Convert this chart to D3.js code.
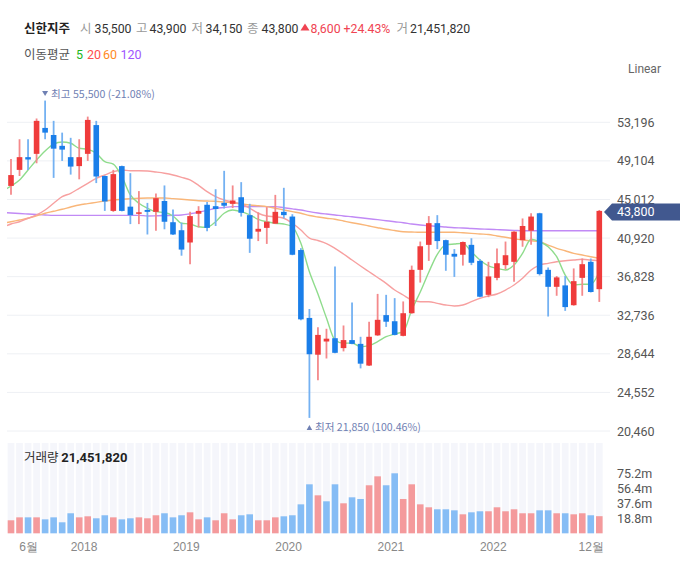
<!DOCTYPE html>
<html><head><meta charset="utf-8">
<script src="https://cdn.jsdelivr.net/npm/d3@7"></script>
<style>
body{margin:0;background:#fff;}
svg{display:block;font-family:"Noto Sans CJK KR","Noto Sans",sans-serif;}
</style></head><body>
<svg id="c" width="680" height="582"></svg>
<script>
// ---------- DATA ----------
const stockName = "신한지주";
const months = ["2017-04","2017-05","2017-06","2017-07","2017-08","2017-09","2017-10","2017-11","2017-12",
"2018-01","2018-02","2018-03","2018-04","2018-05","2018-06","2018-07","2018-08","2018-09","2018-10","2018-11","2018-12",
"2019-01","2019-02","2019-03","2019-04","2019-05","2019-06","2019-07","2019-08","2019-09","2019-10","2019-11","2019-12",
"2020-01","2020-02","2020-03","2020-04","2020-05","2020-06","2020-07","2020-08","2020-09","2020-10","2020-11","2020-12",
"2021-01","2021-02","2021-03","2021-04","2021-05","2021-06","2021-07","2021-08","2021-09","2021-10","2021-11","2021-12",
"2022-01","2022-02","2022-03","2022-04","2022-05","2022-06","2022-07","2022-08","2022-09","2022-10","2022-11","2022-12","2023-01"];
const open  = [46450,48150,49500,49850,52600,51850,50700,49500,48550,49850,52900,47500,43800,48550,44250,43550,43900,43700,44850,42600,41750,40450,43500,44450,44300,44650,44550,45250,43350,41600,42000,42450,43700,43200,39650,32450,28550,29950,30300,29250,30100,29700,27400,30600,32750,32100,30550,32950,37550,40200,42500,40700,39250,39150,40200,38500,34900,36700,38050,38400,40700,41700,43550,37550,35750,35900,33800,36700,38400,35500];
const high  = [49300,51400,51400,53600,55500,53350,52100,51550,51400,53800,53350,47550,48150,48600,47800,45900,44650,45650,46500,43950,42550,43700,44300,44750,46100,48050,46500,46850,44550,43650,44200,45500,46250,43450,39850,33400,31450,31300,37900,31650,34100,30450,32050,35000,34900,34550,34200,38000,40550,43250,43350,40750,39750,40550,40900,38700,38400,39800,40550,41650,43000,43550,43600,37800,36900,36900,37700,38750,38750,43900];
const low   = [45500,47500,48150,48850,51400,47300,49100,47650,47150,49100,46750,43800,43700,43750,42400,42400,41300,41700,41850,41250,39050,38150,42050,41650,42200,44050,44100,43200,39350,40600,40300,42400,43000,39100,32200,21850,25850,28150,28700,28900,29650,27100,27350,30550,31500,30600,30500,32900,36200,38500,39750,37450,36800,38000,38050,34650,34650,36450,37600,36300,40000,40200,36950,32600,34800,33200,33750,34800,35150,34150];
const close = [47600,49500,49250,53350,52100,50400,50300,48500,49500,53450,47450,44800,47700,43800,43350,43650,43700,45150,42650,41300,39700,43250,43800,42000,44000,44350,44900,43600,40850,41900,42650,43700,43350,39150,32300,28600,30650,30250,28750,30100,29700,27600,30450,32250,32050,30650,32950,37550,40050,42500,40600,39150,38950,40500,38300,34700,36850,38250,39100,41600,42200,43200,37100,35750,36750,33600,36350,38150,35200,43800];
// volume in millions of shares
const volume = [16.3,20.0,20.0,20.0,17.5,20.0,13.8,25.1,20.0,21.3,18.8,22.6,20.0,17.5,18.8,20.0,18.8,22.6,25.1,20.0,22.6,26.3,17.5,20.0,16.3,25.1,17.5,22.6,23.8,16.3,16.3,20.0,21.3,22.6,36.3,61.4,47.6,40.1,61.4,37.6,45.1,43.0,60.2,71.4,60.2,75.2,43.0,61.4,36.3,32.6,30.1,30.1,28.8,23.8,26.3,27.6,27.6,32.6,27.6,30.1,25.1,25.1,28.8,28.8,25.1,25.1,23.8,25.1,22.6,21.45182];
// moving averages, first value = 2017-03 (one month before the first candle)
const ma5   = [45910,46440,47080,48140,49200,50150,50890,51110,50970,50440,50330,49910,49020,48770,47430,45490,44610,44080,43720,43630,43260,42490,42410,42120,42060,42650,43550,43900,43720,43370,42910,42650,42490,42410,42120,40360,37340,35000,32440,30110,29760,29790,29400,29510,29930,30460,30750,30990,33290,35200,37300,39200,40200,40290,40360,39470,38590,37960,37710,37530,38060,39300,40790,40530,40000,38940,37000,35940,36020,36020,37350];
const ma20  = [42040,42410,42650,43020,43370,43900,44610,45310,45670,46200,46730,47260,47610,47960,48140,48060,48060,48030,47920,47790,47610,47360,47080,46510,45840,45310,44960,44740,44530,44080,43550,43260,43180,43020,42490,41770,40920,40660,40340,39830,39230,38590,37960,37350,36740,36120,35410,34880,34350,34170,34170,34000,33820,33720,33820,34170,34530,34780,34990,35410,35940,36650,37530,38060,38240,38410,38520,38590,38670,38590,38520];
const ma60  = [42460,42650,42830,43020,43280,43550,43760,43970,44210,44430,44570,44710,44850,44960,45030,45090,45140,45170,45170,45170,45100,45030,44960,44880,44850,44820,44740,44670,44550,44430,44340,44250,44080,43900,43720,43550,43310,43150,43020,42910,42730,42550,42380,42200,42020,41850,41720,41590,41560,41530,41530,41530,41530,41530,41480,41420,41350,41300,41140,41000,40850,40710,40630,40530,40180,39830,39570,39300,39120,38940,38770];
const ma120 = [43630,43580,43520,43470,43420,43370,43330,43330,43330,43330,43330,43330,43330,43330,43330,43330,43330,43260,43280,43310,43330,43370,43500,43650,43860,44080,44160,44250,44250,44250,44250,44250,44250,44140,44020,43900,43720,43580,43470,43370,43260,43180,43080,42970,42870,42760,42650,42550,42410,42300,42230,42170,42090,42020,41990,41930,41880,41850,41810,41770,41740,41700,41700,41700,41700,41700,41700,41700,41700,41700,41700];
const priceTicks = [20460,24552,28644,32736,36828,40920,45012,49104,53196];
const volumeTicks = [18.8,37.6,56.4,75.2];
const xTickLabels = ["6월","2018","2019","2020","2021","2022","12월"];
const xTickPos = [2,8.5,20.5,32.5,44.5,56.5,68];
const maPeriods = ["5","20","60","120"];

// ---------- STYLE ----------
const UP="#ef3b3b", DOWN="#1a7ee9", UPW="#f4898b", DOWNW="#74b1f2";
const VUP="#f49a9c", VDOWN="#86bdf5";
const MA_COL=["#8fdc8c","#f7a0a0","#f9b679","#c18af5"];
const LEG_COL=["#1db81d","#ff4d4d","#ff8a1f","#a055ff"];
const NUMFONT="Roboto, 'Noto Sans', sans-serif";

const svg=d3.select("#c");
const x=d3.scaleLinear().domain([0,69]).range([11,599.3]);
const y=d3.scaleLinear().domain([20460,53196]).range([431,122.3]);
const yv=d3.scaleLinear().domain([0,75.2]).range([533.3,473.3]);
const step=x(1)-x(0);
const n=close.length, L=n-1;
const fmt=d3.format(",");

// header
const chg=close[L]-close[L-1], pct=chg/close[L-1]*100;
const h1=svg.append("g").attr("font-size",12.5);
const hdr=[[stockName,24,"#222",700,null],["시",80,"#999",400,null],[fmt(open[L]),94.5,"#333",400,NUMFONT],["고",136,"#999",400,null],[fmt(high[L]),149.5,"#333",400,NUMFONT],
["저",191.5,"#999",400,null],[fmt(low[L]),205.5,"#333",400,NUMFONT],["종",247,"#999",400,null],[fmt(close[L]),261.5,"#333",400,NUMFONT],
[fmt(chg),310.5,"#f04452",400,NUMFONT],["+"+pct.toFixed(2)+"%",343.5,"#f04452",400,NUMFONT],["거",396.5,"#999",400,null],[fmt(Math.round(volume[L]*1e6)),410,"#333",400,NUMFONT]];
hdr.forEach(d=>{const t=h1.append("text").attr("x",d[1]).attr("y",32.5).attr("fill",d[2]).attr("font-weight",d[3]).text(d[0]);
  if(d[4]) t.attr("font-family",d[4]).attr("font-size",12.3);});
h1.append("path").attr("d","M300.5,30.5 L305,23.5 L309.5,30.5 Z").attr("fill","#f04452");
const h2=svg.append("g").attr("font-size",12.5);
h2.append("text").attr("x",24).attr("y",59).attr("fill","#555").text("이동평균");
const legX=[76,87,103,120.5];
maPeriods.forEach((p,i)=>h2.append("text").attr("x",legX[i]).attr("y",59).attr("fill",LEG_COL[i]).attr("font-family",NUMFONT).attr("font-size",12.5).text(p));
svg.append("text").attr("x",628).attr("y",73).attr("font-size",12).attr("fill","#666").attr("font-family",NUMFONT).text("Linear");

// grid
svg.append("g").selectAll("line").data(priceTicks).join("line")
 .attr("x1",7).attr("x2",610).attr("y1",d=>y(d)).attr("y2",d=>y(d))
 .attr("stroke","#eef0f4").attr("stroke-width",1);

// clip
svg.append("clipPath").attr("id","pc").append("rect").attr("x",7).attr("y",80).attr("width",597).attr("height",362);
const plot=svg.append("g").attr("clip-path","url(#pc)");

// moving averages (under candles)
const mas=[ma120,ma60,ma20,ma5];
const maCols=[MA_COL[3],MA_COL[2],MA_COL[1],MA_COL[0]];
mas.forEach((arr,k)=>{
  plot.append("path").datum(arr)
   .attr("d",d3.line().x((d,i)=>x(i-1)).y(d=>y(d)).curve(d3.curveMonotoneX))
   .attr("fill","none").attr("stroke",maCols[k]).attr("stroke-width",1.4);
});

// candles
const idx=d3.range(n);
const bw=5.6;
plot.append("g").selectAll("line").data(idx).join("line")
 .attr("x1",i=>x(i)).attr("x2",i=>x(i)).attr("y1",i=>y(high[i])).attr("y2",i=>y(low[i]))
 .attr("stroke",i=>close[i]>=open[i]?UPW:DOWNW).attr("stroke-width",1.8);
plot.append("g").selectAll("rect").data(idx).join("rect")
 .attr("x",i=>x(i)-bw/2).attr("width",bw)
 .attr("y",i=>y(Math.max(open[i],close[i])))
 .attr("height",i=>Math.max(1.5,Math.abs(y(open[i])-y(close[i]))))
 .attr("fill",i=>close[i]>=open[i]?UP:DOWN);

// high / low annotations
const hi=d3.maxIndex(high), lo=d3.minIndex(low);
const ann=svg.append("g").attr("font-size",10.6).attr("fill","#6f80b3");
ann.append("path").attr("d",`M${x(hi)-3},91 L${x(hi)+3},91 L${x(hi)},96 Z`).attr("fill","#6f80b3");
ann.append("text").attr("x",x(hi)+6).attr("y",97.5).text(`최고 ${fmt(high[hi])} (${((close[L]-high[hi])/high[hi]*100).toFixed(2)}%)`);
ann.append("path").attr("d",`M${x(lo)-2.8},430 L${x(lo)+2.8},430 L${x(lo)},425 Z`).attr("fill","#6f80b3");
ann.append("text").attr("x",x(lo)+5.5).attr("y",431).text(`최저 ${fmt(low[lo])} (${((close[L]-low[lo])/low[lo]*100).toFixed(2)}%)`);

// price axis
const ya=svg.append("g").attr("transform","translate(612,0)")
 .call(d3.axisRight(y).tickValues(priceTicks).tickSize(0).tickPadding(5).tickFormat(fmt));
ya.select(".domain").remove();
ya.selectAll("text").attr("font-size",12.5).attr("fill","#555").attr("font-family",NUMFONT);

// current price tag
const cy=y(close[L])+1;
svg.append("path").attr("d",`M604,${cy} L612,${cy-8.5} L680,${cy-8.5} L680,${cy+8.5} L612,${cy+8.5} Z`).attr("fill","#41588f");
svg.append("text").attr("x",617).attr("y",cy+4.5).attr("font-size",12.5).attr("font-family",NUMFONT).attr("fill","#fff").text(fmt(close[L]));

// volume panel
svg.append("g").selectAll("rect").data(idx).join("rect")
 .attr("x",i=>x(i)-step/2+0.9).attr("width",step-1.8).attr("y",443).attr("height",533.3-443)
 .attr("fill","#f5f6fb");
svg.append("g").selectAll("rect").data(idx).join("rect")
 .attr("x",i=>x(i)-3.3).attr("width",6.6)
 .attr("y",i=>yv(volume[i])).attr("height",i=>yv(0)-yv(volume[i]))
 .attr("fill",i=>(i===0?close[i]>=open[i]:close[i]>=close[i-1])?VUP:VDOWN);
const vl=svg.append("text").attr("x",24).attr("y",461.5).attr("font-size",12.5).attr("fill","#333");
vl.append("tspan").text("거래량 ");
vl.append("tspan").attr("font-weight",700).attr("fill","#222").attr("font-family",NUMFONT).attr("font-size",13).text(fmt(Math.round(volume[L]*1e6)));
const va=svg.append("g").attr("transform","translate(612,0)")
 .call(d3.axisRight(yv).tickValues(volumeTicks).tickSize(0).tickPadding(5).tickFormat(d=>d.toFixed(1)+"m"));
va.select(".domain").remove();
va.selectAll("text").attr("font-size",12.5).attr("fill","#555").attr("font-family",NUMFONT);

// x axis
const xa=svg.append("g").attr("transform","translate(0,538)")
 .call(d3.axisBottom(x).tickValues(xTickPos).tickSize(0).tickPadding(4).tickFormat((d,i)=>xTickLabels[i]));
xa.select(".domain").remove();
xa.selectAll("text").attr("font-size",12).attr("fill","#888");
</script>
</body></html>
